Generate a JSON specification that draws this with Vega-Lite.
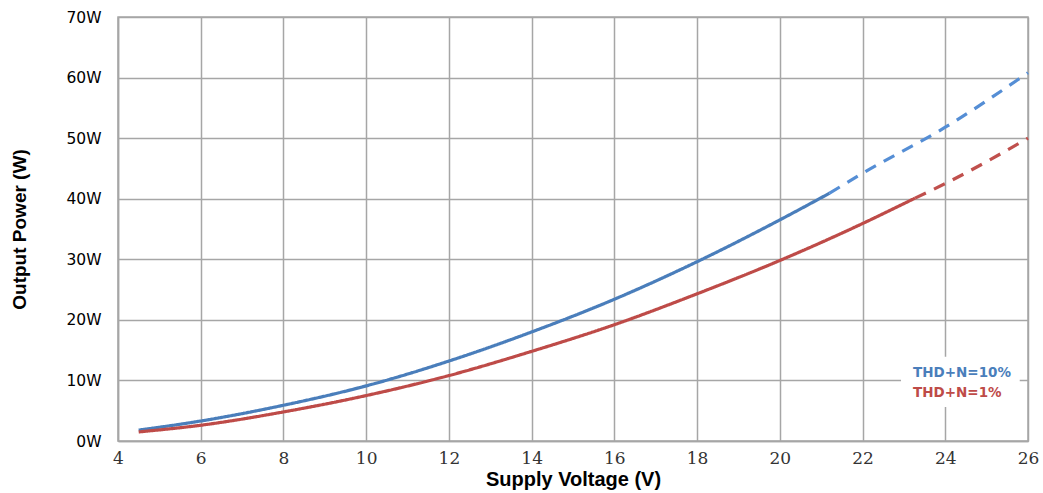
{
  "$schema": "https://vega.github.io/schema/vega-lite/v6.json",
  "width": 910,
  "height": 424,
  "autosize": {"type": "none"},
  "padding": {"left": 118, "top": 17, "right": 15, "bottom": 52},
  "background": "white",
  "config": {
    "view": {"stroke": "#a6a6a6", "strokeWidth": 1.5},
    "axis": {"gridColor": "#a6a6a6", "gridWidth": 1.5, "domainColor": "#a6a6a6", "domainWidth": 1.5, "ticks": false}
  },
  "datasets": {
    "curves": [
      {"line": "10% solid", "series": "THD+N=10%", "style": "solid", "v": 4.5, "p": 1.8},
      {"line": "10% solid", "series": "THD+N=10%", "style": "solid", "v": 6, "p": 3.3},
      {"line": "10% solid", "series": "THD+N=10%", "style": "solid", "v": 8, "p": 5.9},
      {"line": "10% solid", "series": "THD+N=10%", "style": "solid", "v": 10, "p": 9.1},
      {"line": "10% solid", "series": "THD+N=10%", "style": "solid", "v": 12, "p": 13.2},
      {"line": "10% solid", "series": "THD+N=10%", "style": "solid", "v": 14, "p": 18.0},
      {"line": "10% solid", "series": "THD+N=10%", "style": "solid", "v": 16, "p": 23.4},
      {"line": "10% solid", "series": "THD+N=10%", "style": "solid", "v": 18, "p": 29.6},
      {"line": "10% solid", "series": "THD+N=10%", "style": "solid", "v": 20, "p": 36.5},
      {"line": "10% solid", "series": "THD+N=10%", "style": "solid", "v": 21.2, "p": 40.9},
      {"line": "10% dashed", "series": "THD+N=10%", "style": "dashed", "v": 21.2, "p": 40.9},
      {"line": "10% dashed", "series": "THD+N=10%", "style": "dashed", "v": 22, "p": 44.2},
      {"line": "10% dashed", "series": "THD+N=10%", "style": "dashed", "v": 24, "p": 51.8},
      {"line": "10% dashed", "series": "THD+N=10%", "style": "dashed", "v": 26, "p": 60.8},
      {"line": "1% solid", "series": "THD+N=1%", "style": "solid", "v": 4.5, "p": 1.5},
      {"line": "1% solid", "series": "THD+N=1%", "style": "solid", "v": 6, "p": 2.6},
      {"line": "1% solid", "series": "THD+N=1%", "style": "solid", "v": 8, "p": 4.8},
      {"line": "1% solid", "series": "THD+N=1%", "style": "solid", "v": 10, "p": 7.5},
      {"line": "1% solid", "series": "THD+N=1%", "style": "solid", "v": 12, "p": 10.8},
      {"line": "1% solid", "series": "THD+N=1%", "style": "solid", "v": 14, "p": 14.8},
      {"line": "1% solid", "series": "THD+N=1%", "style": "solid", "v": 16, "p": 19.2},
      {"line": "1% solid", "series": "THD+N=1%", "style": "solid", "v": 18, "p": 24.3},
      {"line": "1% solid", "series": "THD+N=1%", "style": "solid", "v": 20, "p": 29.8},
      {"line": "1% solid", "series": "THD+N=1%", "style": "solid", "v": 22, "p": 35.9},
      {"line": "1% solid", "series": "THD+N=1%", "style": "solid", "v": 23.27, "p": 40.1},
      {"line": "1% dashed", "series": "THD+N=1%", "style": "dashed", "v": 23.27, "p": 40.1},
      {"line": "1% dashed", "series": "THD+N=1%", "style": "dashed", "v": 24, "p": 42.5},
      {"line": "1% dashed", "series": "THD+N=1%", "style": "dashed", "v": 26, "p": 50.0}
    ],
    "legendbox": [{"x1": 22.93, "x2": 25.8, "y1": 5.6, "y2": 13.9}],
    "labels": [
      {"label": "THD+N=10%", "series": "THD+N=10%", "v": 23.22, "p": 11.2},
      {"label": "THD+N=1%", "series": "THD+N=1%", "v": 23.22, "p": 7.9}
    ]
  },
  "layer": [
    {
      "data": {"name": "curves"},
      "mark": {"type": "line", "interpolate": "monotone", "strokeWidth": 3.2, "strokeCap": "butt"},
      "encoding": {
        "x": {
          "field": "v", "type": "quantitative",
          "scale": {"domain": [4, 26], "nice": false, "zero": false},
          "axis": {
            "values": [4, 6, 8, 10, 12, 14, 16, 18, 20, 22, 24, 26],
            "title": "Supply Voltage (V)",
            "titleFont": "Liberation Sans", "titleFontSize": 20, "titleFontWeight": "bold", "titleColor": "black", "titlePadding": 3,
            "labelFont": "DejaVu Serif", "labelFontSize": 17, "labelColor": "#333333", "labelPadding": 9, "labelFlush": false
          }
        },
        "y": {
          "field": "p", "type": "quantitative",
          "scale": {"domain": [0, 70], "nice": false},
          "axis": {
            "values": [0, 10, 20, 30, 40, 50, 60, 70],
            "labelExpr": "datum.value + 'W'",
            "title": "Output Power (W)",
            "titleFont": "Liberation Sans", "titleFontSize": 19, "titleFontWeight": "bold", "titleColor": "black", "titlePadding": 36,
            "labelFont": "DejaVu Sans", "labelFontSize": 15.5, "labelColor": "black", "labelPadding": 17, "labelFlush": false
          }
        },
        "detail": {"field": "line"},
        "color": {
          "field": "line", "type": "nominal", "legend": null,
          "scale": {"domain": ["10% solid", "10% dashed", "1% solid", "1% dashed"], "range": ["#4a7ebb", "#558ed5", "#be4b48", "#c0504d"]}
        },
        "strokeDash": {
          "field": "style", "type": "nominal", "legend": null,
          "scale": {"domain": ["solid", "dashed"], "range": [[1, 0], [12, 9]]}
        }
      }
    },
    {
      "data": {"name": "legendbox"},
      "mark": {"type": "rect", "fill": "white"},
      "encoding": {
        "x": {"field": "x1", "type": "quantitative"},
        "x2": {"field": "x2"},
        "y": {"field": "y1", "type": "quantitative"},
        "y2": {"field": "y2"}
      }
    },
    {
      "data": {"name": "labels"},
      "mark": {"type": "text", "align": "left", "baseline": "middle", "font": "DejaVu Sans", "fontSize": 13.5, "fontWeight": "bold"},
      "encoding": {
        "x": {"field": "v", "type": "quantitative"},
        "y": {"field": "p", "type": "quantitative"},
        "text": {"field": "label"},
        "color": {
          "field": "series", "type": "nominal", "legend": null,
          "scale": {"domain": ["THD+N=10%", "THD+N=1%"], "range": ["#4a7ebb", "#be4b48"]}
        }
      }
    }
  ],
  "resolve": {"scale": {"color": "independent"}}
}
